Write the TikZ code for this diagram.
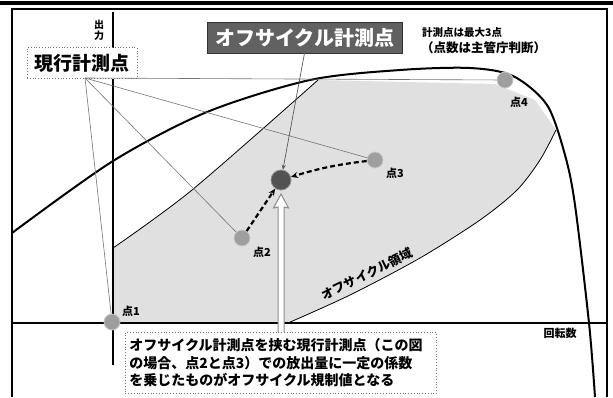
\documentclass[tikz,border=0pt]{standalone}
\usepackage{fontspec}
\newfontfamily\jp{Noto Sans CJK JP}
\usetikzlibrary{arrows.meta}
\tikzset{
  ptc/.style={circle, fill=black!38, draw=black!22, line width=0.8pt, minimum size=16pt, inner sep=0pt},
  offpt/.style={circle, fill=black!68, draw=black!45, line width=0.8pt, minimum size=20pt, inner sep=0pt},
  lbl/.style={font=\jp\bfseries\fontsize{11}{13}\selectfont, inner sep=0pt},
  ray/.style={draw=black!55, line width=0.6pt},
  dasharrow/.style={line width=2.2pt, dash pattern=on 5pt off 3pt, -{Stealth[length=7pt,width=6pt]}},
  axisline/.style={line width=1.6pt, black},
  region/.style={fill=black!12},
  dotbox/.style={draw=black!55, dotted, line width=0.8pt},
}
\begin{document}
\begin{tikzpicture}[x=1pt,y=-1pt]
\useasboundingbox (0,0) rectangle (613,397);
% top band and frame
\fill[black] (0,1) rectangle (613,4.5);
\draw[line width=1.4pt] (12,397) -- (12,9) -- (607,9) -- (607,397);
% shaded off-cycle region
\fill[region] (113,322) -- plot[smooth] coordinates {(113,248) (192,190) (318,80)}
  -- (495,84) -- plot[smooth] coordinates {(535,100) (556,130)}
  -- plot[smooth] coordinates {(556,130) (540,160) (517,190) (480,220) (420,258) (350,295) (290,322)} -- cycle;
\draw[line width=0.8pt] plot[smooth] coordinates {(113,248) (192,190) (318,80)};
\draw[line width=0.8pt] plot[smooth] coordinates {(556,130) (540,160) (517,190) (480,220) (420,258) (350,295) (288,323)};
% axes
\draw[axisline] (113,12) -- (113,365);
\draw[axisline] (12,323) -- (607,323);
% maximum output curve
\draw[line width=2pt] plot[smooth] coordinates {(12,233) (113,161) (207,112) (310,80) (400,70) (470,68) (513,76) (547,105) (565,155) (575,205) (589,323) (595,397)};
% labels of axes
\node[font=\jp\bfseries\fontsize{10}{11}\selectfont, align=center, inner sep=0pt] (yl) at (99,30) {出\\力};
\node[font=\jp\bfseries\fontsize{11}{13}\selectfont, inner sep=0pt] (xl) at (560,333) {回転数};
% boxes
\node[dotbox, fill=white, font=\jp\bfseries\fontsize{19}{22}\selectfont, minimum width=110pt, minimum height=31pt, inner sep=0pt] (gen) at (82,63) {現行計測点};
\node[fill=black!62, draw=black!80, text=white, font=\jp\bfseries\fontsize{20}{24}\selectfont, minimum width=195pt, minimum height=31pt, inner sep=0pt] (offbox) at (304.5,37.5) {オフサイクル計測点};
\node[font=\jp\bfseries\fontsize{10.5}{13}\selectfont, anchor=west, inner sep=0pt] (note1) at (422,33) {計測点は最大3点};
\node[font=\jp\bfseries\fontsize{12.5}{15}\selectfont, anchor=west, inner sep=0pt] (note2) at (421,48) {（点数は主管庁判断）};
% points
\node[ptc] (p1) at (112,322) {};
\node[ptc] (p2) at (242,238) {};
\node[ptc] (p3) at (375,160) {};
\node[ptc] (p4) at (505,80) {};
\node[offpt] (off) at (281,180) {};
\node[lbl] (l1) at (131,311) {点1};
\node[lbl] (l2) at (262,252) {点2};
\node[lbl] (l3) at (395,173) {点3};
\node[lbl] (l4) at (519,102) {点4};
% rays from current measuring point box
\coordinate (g0) at (85,78);
\draw[ray] (g0) -- (p1);
\draw[ray] (g0) -- (p2);
\draw[ray] (g0) -- (p3);
\draw[ray] (g0) -- (p4);
% arrow from off-cycle box
\draw[draw=black!65, line width=0.7pt, -{Stealth[length=5pt,width=4pt]}] (offbox.south) -- (off);
% dashed arrows
\draw[dasharrow] (p2) -- (off);
\draw[dasharrow] (p3) to[bend right=5] (off);
% off-cycle region label
\node[font=\jp\bfseries\fontsize{12.5}{14}\selectfont, rotate=26, inner sep=0pt] (rl) at (367,274) {オフサイクル領域};
% bottom explanation box
\node[dotbox, fill=white, font=\jp\bfseries\fontsize{14}{17.5}\selectfont, align=left, anchor=north west, minimum width=311pt, minimum height=61pt, inner sep=4pt, text width=303pt] (expl) at (125,332) {オフサイクル計測点を挟む現行計測点（この図\\の場合、点2と点3）での放出量に一定の係数\\を乗じたものがオフサイクル規制値となる};
% hollow gray arrow
\draw[draw=black!45, fill=white, line width=1pt] (278,332) -- (278,207) -- (273.5,208) -- (281,194) -- (288.5,208) -- (284,207) -- (284,332);
\end{tikzpicture}
\end{document}
